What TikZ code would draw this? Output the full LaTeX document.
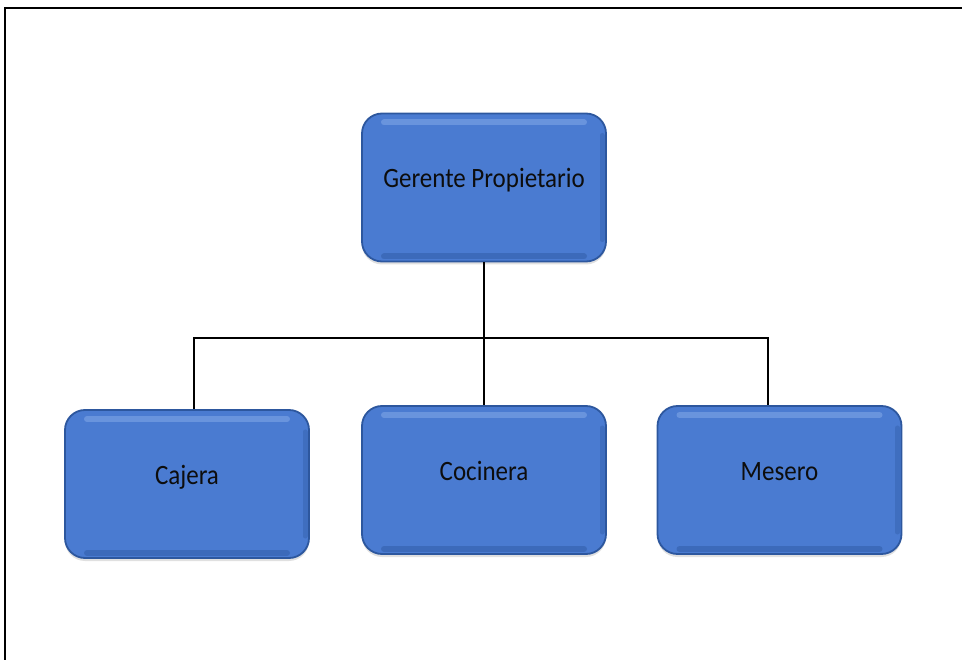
\documentclass[tikz,border=0pt]{standalone}
\usepackage{fontspec}
\setmainfont{Carlito}
\usetikzlibrary{shadows}
\definecolor{boxblue}{HTML}{4A7BD1}
\definecolor{boxedge}{HTML}{2D579E}
\definecolor{boxhi}{HTML}{7EA5E6}
\tikzset{
  orgbox/.style={rounded corners=20pt, fill=boxblue, draw=boxedge, line width=1.8pt,
    minimum width=244pt, minimum height=148pt, inner sep=0pt,
    text=black!95, font=\fontsize{25}{29}\selectfont, text height=12pt, text depth=12pt,
    drop shadow={shadow xshift=0pt, shadow yshift=-3pt, fill=black!30, opacity=0.4},
    path picture={
      \draw[boxhi, line width=6pt, line cap=round, opacity=0.6]
        ([xshift=22pt,yshift=-9pt]path picture bounding box.north west) --
        ([xshift=-22pt,yshift=-9pt]path picture bounding box.north east);
      \draw[boxedge, line width=6pt, line cap=round, opacity=0.45]
        ([xshift=22pt,yshift=5pt]path picture bounding box.south west) --
        ([xshift=-22pt,yshift=5pt]path picture bounding box.south east);
      \draw[boxedge, line width=5pt, line cap=round, opacity=0.35]
        ([xshift=-4pt,yshift=-22pt]path picture bounding box.north east) --
        ([xshift=-4pt,yshift=22pt]path picture bounding box.south east);
    }},
  link/.style={draw=black, line width=1.4pt},
  frame/.style={draw=black, line width=2pt}
}
\begin{document}
\begin{tikzpicture}[x=1pt,y=-1pt]
  \useasboundingbox (0,0) rectangle (962,660);
  \draw[frame] (5,680) -- (5,8) -- (980,8);

  \node[orgbox] (g)   at (484,187.5) {\scalebox{1}[1.12]{Gerente Propietario}};
  \node[orgbox] (caj) at (187,484)   {\scalebox{1}[1.12]{Cajera}};
  \node[orgbox] (coc) at (484,480)   {\scalebox{1}[1.12]{Cocinera}};
  \node[orgbox] (mes) at (779.5,480) {\scalebox{1}[1.12]{Mesero}};

  \coordinate (bl) at (194,338);
  \coordinate (br) at (768,338);

  \draw[link] (g.south) -- (coc.north);
  \draw[link] (caj.north -| bl) -- (bl) -- (br) -- (mes.north -| br);
\end{tikzpicture}
\end{document}
